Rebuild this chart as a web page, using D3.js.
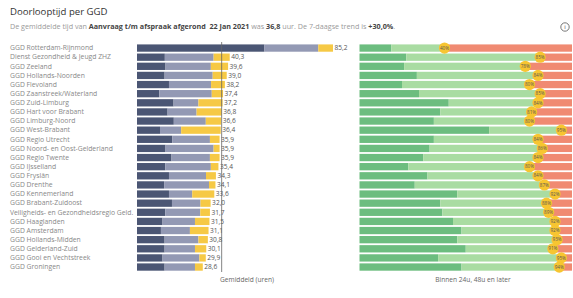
<!DOCTYPE html>
<html><head><meta charset="utf-8">
<script src="https://cdn.jsdelivr.net/npm/d3@7"></script>
<style>
body{margin:0;background:#fff;font-family:"Open Sans",sans-serif;}
</style></head>
<body><svg id="c" width="573" height="298"></svg>
<script>
const regions = ["GGD Rotterdam-Rijnmond","Dienst Gezondheid & Jeugd ZHZ","GGD Zeeland","GGD Hollands-Noorden","GGD Flevoland","GGD Zaanstreek/Waterland","GGD Zuid-Limburg","GGD Hart voor Brabant","GGD Limburg-Noord","GGD West-Brabant","GGD Regio Utrecht","GGD Noord- en Oost-Gelderland","GGD Regio Twente","GGD IJsselland","GGD Fryslân","GGD Drenthe","GGD Kennemerland","GGD Brabant-Zuidoost","Veiligheids- en Gezondheidsregio Geld.","GGD Haaglanden","GGD Amsterdam","GGD Hollands-Midden","GGD Gelderland-Zuid","GGD Gooi en Vechtstreek","GGD Groningen"];
const totals = [85.2,40.3,39.6,39.0,38.2,37.4,37.2,36.8,36.6,36.4,35.9,35.9,35.9,35.4,34.3,34.1,33.6,32.0,31.7,31.5,31.1,30.8,30.1,29.9,28.6];
const phase1 = [55.4,12.1,12.4,12.0,13.9,9.7,15.9,13.3,16.0,10.0,15.3,12.4,15.0,12.3,13.9,11.8,13.9,15.2,12.3,11.1,10.4,12.0,12.0,11.1,12.0];
const phase2 = [23.4,21.2,19.7,20.9,18.3,22.8,10.8,12.6,13.9,9.2,16.4,20.9,16.7,19.8,16.1,19.5,10.1,12.4,15.2,14.1,12.6,14.7,13.2,16.0,13.2];
const meanHours = 36.8;
const within24 = [15,22,21,27,20,28,42,38,35,61,35,33,30,23,32,26,46,38,39,44,48,46,50,37,48];
const within48 = [25,63,57,57,60,57,42,43,45,34,49,53,54,57,52,61,46,50,50,48,44,47,41,58,46];
const later = within24.map((d,i)=>100-d-within48[i]);
const fmt = v => v.toFixed(1).replace(".", ",");

const svg = d3.select("#c");
const rows = regions.map((r,i)=>({r, t:totals[i], p1:phase1[i], p2:phase2[i], p3:totals[i]-phase1[i]-phase2[i], a:within24[i], b:within48[i], c:later[i]}));

svg.append("text").attr("x",10).attr("y",15).attr("font-size",9.6).attr("fill","#333").text("Doorlooptijd per GGD");
const st = svg.append("text").attr("x",10).attr("y",29).attr("font-size",7.2).attr("fill","#999");
[["De gemiddelde tijd van ",0],["Aanvraag t/m afspraak afgerond",1],["  ",0],["22 Jan 2021",1],[" was ",0],["36,8",1],[" uur. De 7-daagse trend is ",0],["+30,0%",1],[".",0]].forEach(([t,b])=>{
  st.append("tspan").attr("font-weight",b?"bold":"normal").attr("fill",b?"#444":"#9a9a9a").attr("xml:space","preserve").text(t);
});
const info = svg.append("g").attr("transform","translate(565,27)");
info.append("circle").attr("r",4.2).attr("fill","none").attr("stroke","#555").attr("stroke-width",0.8);
info.append("text").attr("y",2.3).attr("text-anchor","middle").attr("font-size",6).attr("fill","#555").text("i");

const y = d3.scaleBand().domain(regions).range([43.5,271.6]).paddingInner(0.2).paddingOuter(0.1);
const xL = d3.scaleLinear().domain([0,85.2]).range([137,333]);
const xR = d3.scaleLinear().domain([0,100]).range([359.5,572]);

svg.append("g").selectAll("text").data(rows).join("text")
  .attr("x",10).attr("y",d=>y(d.r)+y.bandwidth()/2+2.3).attr("font-size",6.8).attr("fill","#888").text(d=>d.r);

const cL = ["#4b5674","#9399b4","#f6c945"];
const gL = svg.append("g");
rows.forEach(d=>{
  const segs=[[0,d.p1],[d.p1,d.p1+d.p2],[d.p1+d.p2,d.t]];
  segs.forEach((s,k)=>gL.append("rect").attr("x",xL(s[0])).attr("width",xL(s[1])-xL(s[0]))
    .attr("y",y(d.r)).attr("height",y.bandwidth()).attr("fill",cL[k]));
  gL.append("text").attr("x",xL(d.t)+1.5).attr("y",y(d.r)+y.bandwidth()/2+2.3).attr("font-size",6.6).attr("fill","#555").text(fmt(d.t));
});
svg.append("line").attr("x1",xL(meanHours)).attr("x2",xL(meanHours)).attr("y1",42).attr("y2",272).attr("stroke","#666").attr("stroke-width",0.8);

const cR = ["#6cbd7f","#a9dca2","#f08a72"];
const gR = svg.append("g");
rows.forEach(d=>{
  const segs=[[0,d.a],[d.a,d.a+d.b],[d.a+d.b,100]];
  segs.forEach((s,k)=>gR.append("rect").attr("x",xR(s[0])).attr("width",xR(s[1])-xR(s[0]))
    .attr("y",y(d.r)).attr("height",y.bandwidth()).attr("fill",cR[k]));
});
rows.forEach(d=>{
  const cx = xR(d.a+d.b), cy = y(d.r)+y.bandwidth()/2;
  gR.append("circle").attr("cx",cx).attr("cy",cy).attr("r",5.6).attr("fill","#f7c531");
  gR.append("text").attr("x",cx).attr("y",cy+1.7).attr("text-anchor","middle").attr("font-size",4.6).attr("fill","#555").text((d.a+d.b)+"%");
});

svg.append("text").attr("x",247).attr("y",282).attr("text-anchor","middle").attr("font-size",6.6).attr("fill","#666").text("Gemiddeld (uren)");
svg.append("text").attr("x",473).attr("y",282).attr("text-anchor","middle").attr("font-size",6.6).attr("fill","#666").text("Binnen 24u, 48u en later");
</script></body></html>
